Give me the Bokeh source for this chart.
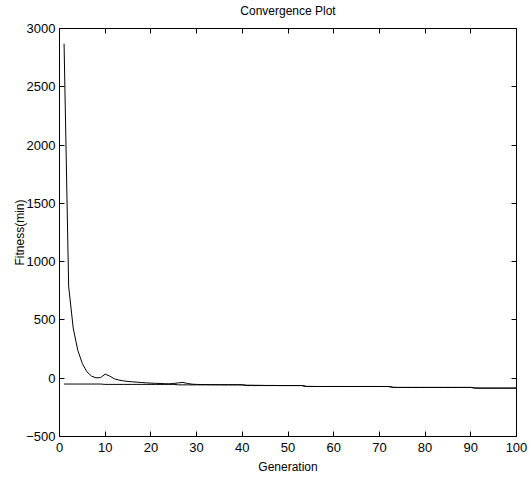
from bokeh.plotting import figure
from bokeh.models import LinearAxis, Range1d, FixedTicker
from bokeh.embed import file_html
from bokeh.resources import INLINE

generation = list(range(1, 101))
mean_fitness = [2870, 790, 430, 240, 125, 55, 18, 3, 6, 35,
                18, -5, -16, -23, -28, -31, -34, -37, -40, -42,
                -44, -45, -47, -48, -45, -40, -36, -45, -51, -53,
                -54, -54, -55, -55, -55, -56, -56, -56, -56, -57,
                -60, -60, -61, -61, -62, -62, -62, -63, -63, -63,
                -63, -63, -63, -70, -70, -71, -71, -71, -71, -71,
                -71, -71, -71, -71, -71, -71, -71, -71, -71, -71,
                -71, -71, -78, -79, -79, -79, -79, -79, -79, -79,
                -79, -79, -79, -79, -79, -79, -79, -79, -79, -79,
                -84, -85, -85, -85, -85, -85, -85, -85, -85, -85]
best_fitness = ([-50] * 9 + [-53] * 16 + [-57] * 15 + [-63] * 13
                + [-71] * 19 + [-79] * 18 + [-85] * 10)
x_ticks = [0, 10, 20, 30, 40, 50, 60, 70, 80, 90, 100]
y_ticks = [-500, 0, 500, 1000, 1500, 2000, 2500, 3000]
title_text = "Convergence Plot"

FONT = "Liberation Sans"

p = figure(width=532, height=477, output_backend="svg", toolbar_location=None,
           x_range=Range1d(0, 100), y_range=Range1d(-500, 3000),
           min_border_left=59, min_border_right=16, min_border_top=27,
           min_border_bottom=41)

p.xgrid.visible = False
p.ygrid.visible = False
p.outline_line_color = "black"
p.outline_line_width = 1
p.background_fill_color = "white"
p.border_fill_color = "white"

def style_axis(ax, ticks, labels=True):
    ax.ticker = FixedTicker(ticks=ticks)
    ax.major_tick_in = 5
    ax.major_tick_out = 0
    ax.minor_tick_line_color = None
    ax.axis_line_color = "black"
    ax.major_tick_line_color = "black"
    ax.major_label_text_font = FONT
    ax.major_label_text_font_size = "13px"
    ax.major_label_text_color = "black"
    ax.major_label_standoff = 5
    ax.axis_label_text_font = FONT
    ax.axis_label_text_font_size = "12px"
    ax.axis_label_text_font_style = "normal"
    ax.axis_label_text_color = "black"
    ax.axis_label_standoff = 4
    if not labels:
        ax.major_label_overrides = {t: "" for t in ticks}
        ax.major_label_standoff = 0

style_axis(p.xaxis[0], x_ticks)
style_axis(p.yaxis[0], y_ticks)
p.xaxis[0].axis_label = "Generation"
p.yaxis[0].axis_label = "Fitness(min)"
p.xaxis[0].major_label_standoff = 6
p.xaxis[0].axis_label_standoff = 5
p.yaxis[0].major_label_standoff = 4
p.yaxis[0].axis_label_standoff = -4

# top axis carries the chart title as its label
top = LinearAxis()
style_axis(top, x_ticks, labels=False)
top.axis_label = title_text
top.axis_label_standoff = 11
p.add_layout(top, "above")
right = LinearAxis()
style_axis(right, y_ticks, labels=False)
p.add_layout(right, "right")

p.line(generation, mean_fitness, line_color="black", line_width=1)
p.line(generation, best_fitness, line_color="black", line_width=1)

open("out.html", "w").write(file_html(p, INLINE))
